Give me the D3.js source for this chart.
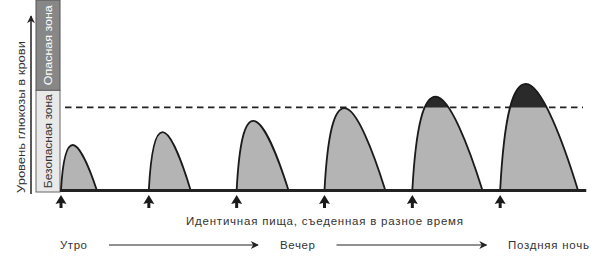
<!DOCTYPE html>
<html>
<head>
<meta charset="utf-8">
<script src="https://cdn.jsdelivr.net/npm/d3@7"></script>
<style>
  html, body { margin: 0; padding: 0; background: #fff; }
  svg { display: block; font-family: "Liberation Sans", Arial, sans-serif; }
</style>
</head>
<body>
<div id="chart"></div>
<script>
// meal times (in meal slots), delay to peak, length of response, peak glucose level
const mealTimes      = [0, 1, 2, 3, 4, 5];
const peakDelay      = [0.133, 0.156, 0.19, 0.228, 0.266, 0.293];
const responseLength = [0.407, 0.475, 0.589, 0.691, 0.797, 0.885];
const peakLevel      = [54.5, 70, 83.6, 99, 113, 128.5];
const safeLimit      = 100;

const zoneLabels = ["Безопасная зона", "Опасная зона"];
const axisTitle  = "Уровень глюкозы в крови";
const mealCaption = "Идентичная пища, съеденная в разное время";
const timeLabels = ["Утро", "Вечер", "Поздняя ночь"];

const W = 600, H = 258;
const x = d3.scaleLinear().domain([0, 6]).range([61, 588]);
const y = d3.scaleLinear().domain([0, 230]).range([190, 0]);

const svg = d3.select("#chart").append("svg")
  .attr("width", W).attr("height", H).attr("viewBox", `0 0 ${W} ${H}`);

const defs = svg.append("defs");
defs.append("clipPath").attr("id", "danger")
  .append("rect").attr("x", 0).attr("y", 0).attr("width", W).attr("height", y(safeLimit));
defs.append("marker").attr("id", "arr").attr("viewBox", "0 0 10 10")
  .attr("refX", 9).attr("refY", 5).attr("markerWidth", 10).attr("markerHeight", 8)
  .attr("markerUnits", "userSpaceOnUse").attr("orient", "auto")
  .append("path").attr("d", "M0,0 L10,5 L0,10 L3,5 Z").attr("fill", "#222");

// zone bar
const zx = 36, zw = 24;
svg.append("rect").attr("x", zx).attr("y", 0).attr("width", zw).attr("height", y(safeLimit) - 17)
  .attr("fill", "#878787").attr("stroke", "#555").attr("stroke-width", 1);
svg.append("rect").attr("x", zx).attr("y", y(safeLimit) - 17).attr("width", zw).attr("height", y(0) + 2 - (y(safeLimit) - 17))
  .attr("fill", "#e9e9e9").attr("stroke", "#666").attr("stroke-width", 1);
svg.append("text")
  .attr("transform", `translate(${zx + zw / 2 + 4},${(y(safeLimit) - 17 + y(0)) / 2 + 1}) rotate(-90)`)
  .attr("text-anchor", "middle").attr("font-size", "11.5px").attr("fill", "#333")
  .attr("textLength", 94).attr("lengthAdjust", "spacingAndGlyphs").text(zoneLabels[0]);
svg.append("text")
  .attr("transform", `translate(${zx + zw / 2 + 4},${(y(safeLimit) - 17) / 2}) rotate(-90)`)
  .attr("text-anchor", "middle").attr("font-size", "11.5px").attr("fill", "#fff")
  .attr("textLength", 80).attr("lengthAdjust", "spacingAndGlyphs").text(zoneLabels[1]);

// y axis arrow
svg.append("line").attr("x1", 31).attr("x2", 31).attr("y1", y(0) + 4).attr("y2", 16)
  .attr("stroke", "#222").attr("stroke-width", 1.5).attr("marker-end", "url(#arr)");
svg.append("text")
  .attr("transform", `translate(25,${(y(0) + 40) / 2 + 2}) rotate(-90)`)
  .attr("text-anchor", "middle").attr("font-size", "11.5px").attr("fill", "#333")
  .attr("textLength", 152).attr("lengthAdjust", "spacingAndGlyphs").text(axisTitle);

// safe limit dashed line
svg.append("line").attr("x1", 65).attr("x2", 583).attr("y1", y(safeLimit)).attr("y2", y(safeLimit))
  .attr("stroke", "#222").attr("stroke-width", 1.7).attr("stroke-dasharray", "6.5,4.5");

// glucose responses
function hump(i) {
  const s = [x(mealTimes[i]), y(0)];
  const p = [x(mealTimes[i] + peakDelay[i]), y(peakLevel[i])];
  const e = [x(mealTimes[i] + responseLength[i]), y(0)];
  const dx1 = p[0] - s[0], dy = s[1] - p[1], dx2 = e[0] - p[0];
  const path = d3.path();
  path.moveTo(s[0], s[1]);
  path.bezierCurveTo(s[0] + 0.16 * dx1, s[1] - 0.72 * dy, p[0] - 0.5 * dx1, p[1], p[0], p[1]);
  path.bezierCurveTo(p[0] + 0.3 * dx2, p[1], e[0] - 0.28 * dx2, e[1] - 0.45 * dy, e[0], e[1]);
  path.closePath();
  return path.toString();
}

const humps = svg.append("g");
mealTimes.forEach((t, i) => {
  const d = hump(i);
  humps.append("path").attr("d", d).attr("fill", "#b4b4b4");
  humps.append("path").attr("d", d).attr("fill", "#2a2a2a").attr("clip-path", "url(#danger)");
  humps.append("path").attr("d", d).attr("fill", "none").attr("stroke", "#1a1a1a")
    .attr("stroke-width", 1.8).attr("stroke-linejoin", "round");
});

// baseline
svg.append("line").attr("x1", x(0) - 1).attr("x2", x(5.98)).attr("y1", y(0) + 0.5).attr("y2", y(0) + 0.5)
  .attr("stroke", "#222").attr("stroke-width", 3);

// meal arrows
mealTimes.forEach(t => {
  const cx = x(t);
  svg.append("path")
    .attr("d", `M${cx},195 L${cx + 5.5},204 L${cx + 1.5},203 L${cx + 1.5},208 L${cx - 1.5},208 L${cx - 1.5},203 L${cx - 5.5},204 Z`)
    .attr("fill", "#1a1a1a");
});

svg.append("text").attr("x", 186).attr("y", 225).attr("font-size", "11.5px").attr("fill", "#333")
  .attr("textLength", 277).attr("lengthAdjust", "spacing").text(mealCaption);

// time row
const timeX = [60, 280, 508], timeW = [27, 35, 81];
timeLabels.forEach((l, i) => {
  svg.append("text").attr("x", timeX[i]).attr("y", 249).attr("font-size", "11.5px").attr("fill", "#333")
    .attr("textLength", timeW[i]).attr("lengthAdjust", "spacing").text(l);
});
[[109, 258], [336.5, 486.5]].forEach(([a, b]) => {
  svg.append("line").attr("x1", a).attr("x2", b).attr("y1", 245).attr("y2", 245)
    .attr("stroke", "#222").attr("stroke-width", 1).attr("marker-end", "url(#arr)");
});
</script>
</body>
</html>
